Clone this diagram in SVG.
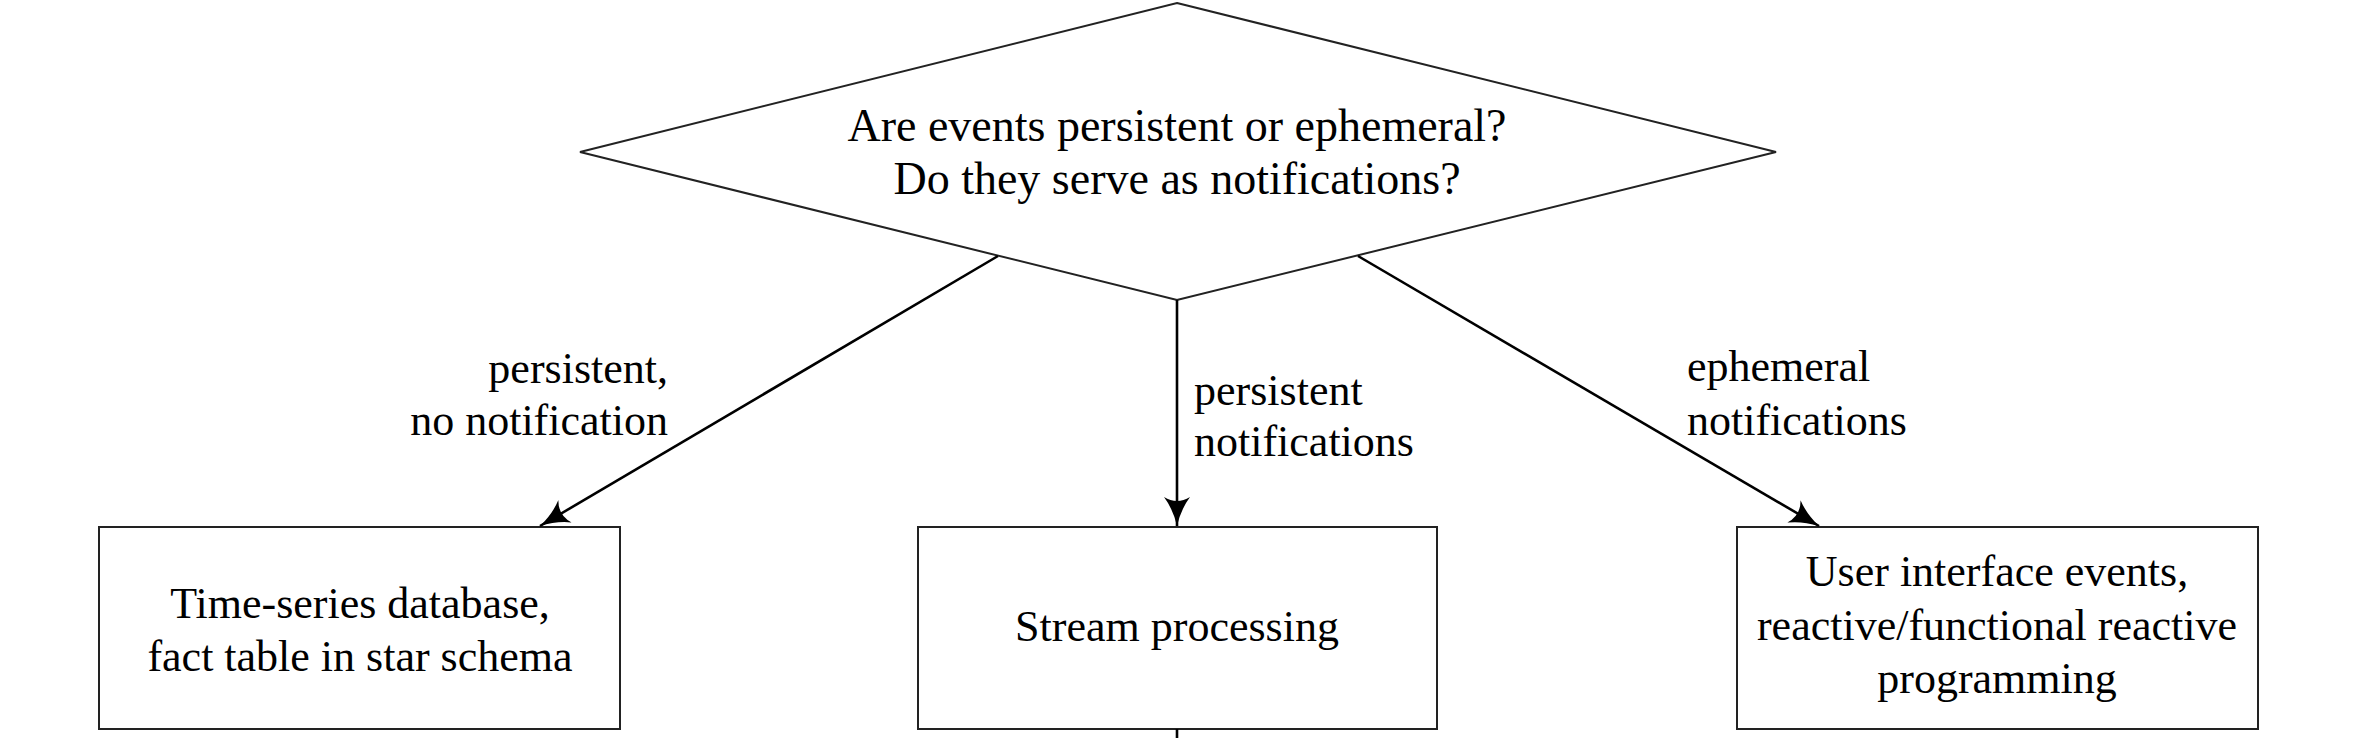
<svg xmlns="http://www.w3.org/2000/svg" width="2376" height="738" viewBox="0 0 2376 738">
<style>
  .shape { fill: #fff; stroke: #222; stroke-width: 2; }
  .conn { fill: none; stroke: #000; stroke-width: 2.6; }
  text { font-family: "Liberation Serif", "Times New Roman", serif; font-size: 44px; fill: #000; }
  .q { font-size: 46px; }
  .c { text-anchor: middle; }
  .r { text-anchor: end; }
</style>
<defs>
  <marker id="arrow" markerUnits="userSpaceOnUse" markerWidth="32" markerHeight="28" refX="29" refY="13" orient="auto">
    <path d="M0,0 Q12,9 29,13 Q12,17 0,26 Q8,13 0,0 Z" fill="#000"/>
  </marker>
</defs>
<rect width="2376" height="738" fill="#fff"/>
<g id="decision">
  <polygon class="shape" points="1177,3 1776,152 1177,300 580,152"/>
  <text class="c q" x="1177" y="141">Are events persistent or ephemeral?</text>
  <text class="c q" x="1177" y="194">Do they serve as notifications?</text>
</g>
<g id="timeseries">
  <rect class="shape" x="99" y="527" width="521" height="202"/>
  <text class="c" x="360" y="618">Time-series database,</text>
  <text class="c" x="360" y="671">fact table in star schema</text>
</g>
<g id="stream">
  <rect class="shape" x="918" y="527" width="519" height="202"/>
  <text class="c" x="1177" y="641">Stream processing</text>
</g>
<g id="ui">
  <rect class="shape" x="1737" y="527" width="521" height="202"/>
  <text class="c" x="1997" y="586">User interface events,</text>
  <text class="c" x="1997" y="640">reactive/functional reactive</text>
  <text class="c" x="1997" y="693">programming</text>
</g>
<g id="connectors">
  <line class="conn" x1="998" y1="256" x2="540" y2="526" marker-end="url(#arrow)"/>
  <line class="conn" x1="1177" y1="300" x2="1177" y2="526" marker-end="url(#arrow)"/>
  <line class="conn" x1="1358" y1="256" x2="1819" y2="526" marker-end="url(#arrow)"/>
  <line class="conn" x1="1177" y1="729" x2="1177" y2="738"/>
  <text class="r" x="668" y="383">persistent,</text>
  <text class="r" x="668" y="435">no notification</text>
  <text x="1194" y="405">persistent</text>
  <text x="1194" y="456">notifications</text>
  <text x="1687" y="381">ephemeral</text>
  <text x="1687" y="435">notifications</text>
</g>
</svg>
